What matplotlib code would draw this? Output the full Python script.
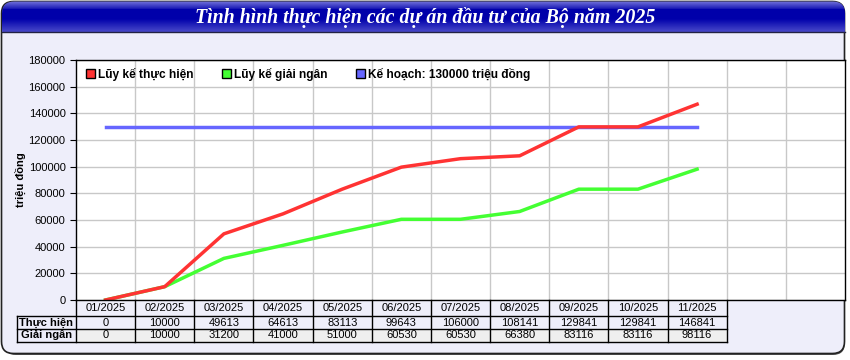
import numpy as np
import matplotlib.pyplot as plt
from matplotlib.patches import FancyBboxPatch, Rectangle
from matplotlib.transforms import blended_transform_factory

# du lieu
thang = ["01/2025", "02/2025", "03/2025", "04/2025", "05/2025", "06/2025",
         "07/2025", "08/2025", "09/2025", "10/2025", "11/2025"]
thuc_hien = [0, 10000, 49613, 64613, 83113, 99643, 106000, 108141, 129841, 129841, 146841]
giai_ngan = [0, 10000, 31200, 41000, 51000, 60530, 60530, 66380, 83116, 83116, 98116]
ke_hoach = 130000
tieu_de = "Tình hình thực hiện các dự án đầu tư của Bộ năm 2025"

plt.rcParams['font.family'] = ['Liberation Sans', 'DejaVu Sans']

W, H = 850, 360
fig = plt.figure(figsize=(W / 100, H / 100), dpi=100)
fig.patch.set_facecolor("white")

# khung ngoai
bg = fig.add_axes([0, 0, 1, 1])
bg.set_xlim(0, W)
bg.set_ylim(H, 0)
bg.axis("off")
bg.add_patch(FancyBboxPatch((4, 4), W - 9, H - 9, boxstyle="round,pad=0,rounding_size=12",
                            fc="#555555", ec="none"))
bg.add_patch(FancyBboxPatch((1.5, 1.5), W - 7, H - 8, boxstyle="round,pad=0,rounding_size=12",
                            fc="#eeeefa", ec="#222222", lw=1.2))

# thanh tieu de (gradient xanh)
title_box = FancyBboxPatch((2, 1.5), W - 7, 40, boxstyle="round,pad=0,rounding_size=12",
                           fc="none", ec="none")
bg.add_patch(title_box)
g = np.concatenate([np.linspace(0.55, 0.15, 8), np.linspace(0.0, 0.0, 10),
                    np.linspace(0.0, 0.35, 14)])
cols = np.zeros((len(g), 1, 3))
cols[:, 0, 0] = g * 0.8
cols[:, 0, 1] = g * 0.8
cols[:, 0, 2] = 0.67 + g * 0.33
im = bg.imshow(cols, extent=(2, W - 5, 32, 1.5), aspect="auto", zorder=2)
im.set_clip_path(title_box)
bg.plot([2, W - 5], [32, 32], color="#222244", lw=1, zorder=3)
bg.text(W / 2, 17, tieu_de, color="white", fontsize=14.3, fontweight="bold",
        fontstyle="italic", family=["Liberation Serif", "DejaVu Serif"],
        ha="center", va="center", zorder=4)

# vung do thi
left, right, top, bottom = 76, 845, 60, 300
ax = fig.add_axes([left / W, 1 - bottom / H, (right - left) / W, (bottom - top) / H])
ax.set_facecolor("white")
x = np.arange(len(thang))
ax.set_xlim(-0.5, 12.5)
ax.set_ylim(0, 180000)
ax.set_yticks(np.arange(0, 180001, 20000))
ax.tick_params(axis="y", labelsize=8, length=4, width=0.8)
ax.set_xticks([])
ax.set_xticks(np.arange(0.5, 12.5, 1), minor=True)
ax.tick_params(axis="x", which="minor", length=0)
ax.grid(True, which="major", axis="y", color="#c8c8c8", lw=1)
ax.grid(True, which="minor", axis="x", color="#c8c8c8", lw=1)
ax.set_axisbelow(True)
for s in ax.spines.values():
    s.set_linewidth(1)
ax.set_ylabel("triệu đồng", fontsize=8, fontweight="bold", labelpad=2)

ax.plot(x, [ke_hoach] * len(x), color="#6666ff", lw=2.5)
ax.plot(x, giai_ngan, color="#44ff33", lw=2.5)
ax.plot(x, thuc_hien, color="#ff3333", lw=2.5)

# chu giai (lop tren cung)
top_ax = fig.add_axes([0, 0, 1, 1], facecolor="none")
top_ax.set_xlim(0, W)
top_ax.set_ylim(H, 0)
top_ax.axis("off")
leg = [("#ff3333", "Lũy kế thực hiện", 86), ("#44ff33", "Lũy kế giải ngân", 222),
       ("#6666ff", "Kế hoạch: 130000 triệu đồng", 356)]
for c, t, px in leg:
    top_ax.add_patch(Rectangle((px, 69), 9, 9, fc=c, ec="black", lw=1))
    top_ax.text(px + 12, 74, t, fontsize=8.6, fontweight="bold", va="center", ha="left")

# bang so lieu
tr = blended_transform_factory(ax.transData, ax.transAxes)
ph = bottom - top
def yf(py):
    return (bottom - py) / ph

y0, y1, y2, y3 = yf(300), yf(316), yf(329), yf(342)
n = len(thang)
ax.add_patch(Rectangle((-0.5, y3), n, y2 - y3, transform=tr, fc="#efefef", ec="none",
                       clip_on=False))
lk = dict(transform=tr, color="black", lw=1, clip_on=False)
ax.plot([-1.5, n - 0.5], [y1, y1], **lk)
ax.plot([-1.5, n - 0.5], [y2, y2], **lk)
ax.plot([-1.5, n - 0.5], [y3, y3], **lk)
ax.plot([-1.5, -1.5], [y1, y3], **lk)
for i in range(n + 1):
    ax.plot([i - 0.5, i - 0.5], [y0, y3], **lk)
for i, t in enumerate(thang):
    ax.text(i, (y0 + y1) / 2, t, transform=tr, ha="center", va="center", fontsize=8)
    ax.text(i, (y1 + y2) / 2, str(thuc_hien[i]), transform=tr, ha="center", va="center",
            fontsize=8)
    ax.text(i, (y2 + y3) / 2, str(giai_ngan[i]), transform=tr, ha="center", va="center",
            fontsize=8)
ax.text(-1.0, (y1 + y2) / 2, "Thực hiện", transform=tr, ha="center", va="center",
        fontsize=8, fontweight="bold")
ax.text(-1.0, (y2 + y3) / 2, "Giải ngân", transform=tr, ha="center", va="center",
        fontsize=8, fontweight="bold")

fig.savefig("out.png", dpi=100)
